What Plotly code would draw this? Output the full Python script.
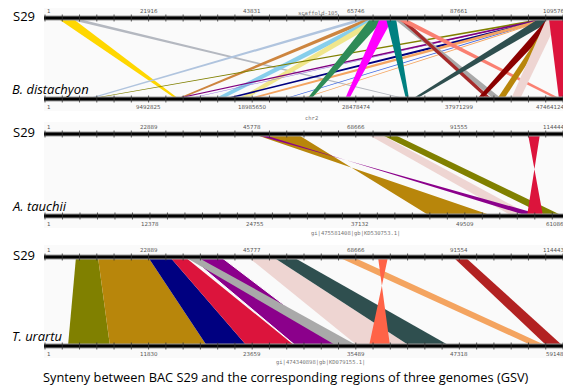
import plotly.graph_objects as go

W, H = 571, 388
OFF = 8  # default page body margin
X0, X1 = 45, 563

# ---------------- data ----------------
# Panel 1 : S29 vs B. distachyon
p1_top_len = 109576
p1_bot_len = 47464124
p1_top_ticks = [1, 21916, 43831, 65746, 87661, 109576]
p1_bot_ticks = [1, 9492825, 18985650, 28478474, 37971299, 47464124]
p1_colors = ["#B4B8C0", "#FFD700", "#B0C4DE", "#CD853F", "#87CEEB", "#F0E68C",
             "#9370DB", "#4169E1", "#F4A460",
             "#808000", "#800080", "#000080", "#F4A460", "#2E8B57", "#FF00FF",
             "#008080", "#A9A9A9", "#A52A2A", "#FA8072", "#2F4F4F", "#8B0000",
             "#B8860B", "#EED5D2", "#DC143C"]
p1_top_start = [3807, 2538, 67046, 68315, 69161, 69795,
                106000, 106800, 107000,
                105750, 105750, 106173, 105962, 68949, 70853,
                72122, 73602, 74660, 73814, 104693, 106385,
                107019, 106173, 106596]
p1_top_end = [6345, 5711, 69161, 70430, 71699, 72122,
              106600, 107400, 107700,
              108077, 107442, 108500, 108500, 71910, 73602,
              74237, 75294, 75717, 75929, 108077, 108923,
              108288, 108711, 109576]
p1_bot_start = [32986800, 12003500, 3756800, 12003500, 15485500, 17684600,
                12920000, 21800000, 23360000,
                3940100, 11637000, 16218500, 18417600, 24007000, 27489000,
                33078400, 41141900, 40500500, 46822900, 33628200, 39584200,
                41416800, 42699600, 47097800]
p1_bot_end = [33261700, 12278400, 4123400, 12370000, 16218500, 18417600,
              13100000, 22000000, 23550000,
              4215000, 12095200, 16768300, 18967400, 24373600, 27855500,
              33353300, 41875000, 40958600, 47281000, 33994700, 40042300,
              42058200, 43524300, 47464124]

# Panel 2 : S29 vs A. tauchii (bottom start > bottom end = inverted match)
p2_top_len = 114444
p2_bot_len = 61086
p2_top_ticks = [1, 22889, 45778, 68666, 91555, 114444]
p2_bot_ticks = [1, 12378, 24755, 37132, 49509, 61086]
p2_colors = ["#B8860B", "#EED5D2", "#808000", "#8B008B", "#DC143C"]
p2_top_start = [45953, 71138, 74012, 45953, 106709]
p2_top_end = [55674, 74012, 76884, 47721, 109360]
p2_bot_start = [52833, 55073, 59201, 58965, 58729]
p2_bot_end = [45403, 57432, 61086, 56960, 56842]

# Panel 3 : S29 vs T. urartu
p3_top_len = 114443
p3_bot_len = 59148
p3_top_ticks = [1, 22889, 45777, 68666, 91554, 114443]
p3_bot_ticks = [1, 11830, 23659, 35489, 47318, 59148]
p3_colors = ["#808000", "#B8860B", "#000080", "#DC143C", "#8B008B", "#A9A9A9",
             "#EED5D2", "#2F4F4F", "#F4A460", "#B22222", "#FF6347"]
p3_top_start = [6849, 11709, 22756, 27616, 32035, 30930, 44849, 50372, 64732, 90139, 73570]
p3_top_end = [11709, 22756, 27616, 30930, 38884, 33581, 50372, 54791, 68046, 92791, 75779]
p3_bot_start = [2626, 7422, 18499, 23066, 28662, 33344, 35741, 41679, 55724, 57323, 39396]
p3_bot_end = [7422, 18499, 23066, 28548, 33458, 35741, 41679, 46247, 57323, 59148, 36998]

panels = [
    dict(ytop=18, ybot=99, tl=p1_top_len, bl=p1_bot_len, tt=p1_top_ticks, bt=p1_bot_ticks,
         c=p1_colors, ts=p1_top_start, te=p1_top_end, bs=p1_bot_start, be=p1_bot_end,
         label="B. distachyon"),
    dict(ytop=134, ybot=216, tl=p2_top_len, bl=p2_bot_len, tt=p2_top_ticks, bt=p2_bot_ticks,
         c=p2_colors, ts=p2_top_start, te=p2_top_end, bs=p2_bot_start, be=p2_bot_end,
         label="A. tauchii"),
    dict(ytop=257, ybot=346, tl=p3_top_len, bl=p3_bot_len, tt=p3_top_ticks, bt=p3_bot_ticks,
         c=p3_colors, ts=p3_top_start, te=p3_top_end, bs=p3_bot_start, be=p3_bot_end,
         label="T. urartu"),
]


def gx(pos, length):
    return X0 + (pos - 1) / (length - 1) * (X1 - X0)


fig = go.Figure()
shapes = []
annotations = []

for k, p in enumerate(panels):
    shapes.append(dict(type="rect", xref="x", yref="y", x0=44, x1=571,
                       y0=p["ytop"] - 12, y1=p["ybot"] + 12,
                       fillcolor="#FAFAFA", line=dict(width=0), layer="below"))
    for i, col in enumerate(p["c"]):
        xs = [gx(p["ts"][i], p["tl"]), gx(p["te"][i], p["tl"]),
              gx(p["be"][i], p["bl"]), gx(p["bs"][i], p["bl"]), gx(p["ts"][i], p["tl"])]
        ys = [p["ytop"], p["ytop"], p["ybot"], p["ybot"], p["ytop"]]
        lw = 0
        lc = col
        if k == 2 and col == "#8B008B":
            lw, lc = 1, "white"
        fig.add_trace(go.Scatter(x=xs, y=ys, mode="lines", fill="toself",
                                 fillcolor=col, line=dict(width=lw, color=lc),
                                 hoverinfo="skip", showlegend=False))
    for yy, ticks, length, side in [(p["ytop"], p["tt"], p["tl"], -1), (p["ybot"], p["bt"], p["bl"], 1)]:
        fig.add_trace(go.Scatter(x=[44, 564], y=[yy, yy], mode="lines",
                                 line=dict(color="#9A9A9A", width=5),
                                 hoverinfo="skip", showlegend=False))
        fig.add_trace(go.Scatter(x=[44, 564], y=[yy, yy], mode="lines",
                                 line=dict(color="black", width=3),
                                 hoverinfo="skip", showlegend=False))
        tx, ty = [], []
        step = (ticks[1] - 1) / 6.0
        n = 0
        while 1 + n * step <= length + 1:
            xv = gx(1 + n * step, length)
            tx += [xv, xv, None]
            ty += [yy - 3.5, yy + 3.5, None]
            n += 1
        fig.add_trace(go.Scatter(x=tx, y=ty, mode="lines",
                                 line=dict(color="#333", width=0.8),
                                 hoverinfo="skip", showlegend=False))
        for j, t in enumerate(ticks):
            xv = gx(t, length)
            anchor = "center"
            if j == 0:
                anchor = "left"
            elif j == len(ticks) - 1:
                anchor = "right"
                xv = xv + 3
            annotations.append(dict(x=xv, y=yy + (-7.5 if side < 0 else 8.0),
                                    xref="x", yref="y", text=str(t), showarrow=False,
                                    xanchor=anchor, yanchor="middle",
                                    font=dict(family="DejaVu Sans", size=5.5, color="#555")))
    annotations.append(dict(x=11, y=p["ytop"] - 2, xref="x", yref="y", text="S29",
                            showarrow=False, xanchor="left", yanchor="middle",
                            font=dict(family="Open Sans", size=13, color="black")))
    annotations.append(dict(x=10, y=p["ybot"] - 10, xref="x", yref="y",
                            text="<i>" + p["label"] + "</i>",
                            showarrow=False, xanchor="left", yanchor="middle",
                            font=dict(family="Open Sans", size=13, color="black")))

small = dict(family="DejaVu Sans Mono", size=5.5, color="#777")
annotations.append(dict(x=318, y=12.5, xref="x", yref="y", text="scaffold-105", showarrow=False,
                        xanchor="center", yanchor="middle", font=small))
annotations.append(dict(x=311, y=118, xref="x", yref="y", text="chr2", showarrow=False,
                        xanchor="center", yanchor="middle", font=small))
annotations.append(dict(x=355, y=233, xref="x", yref="y", text="gi|475581408|gb|KD530753.1|",
                        showarrow=False, xanchor="center", yanchor="middle", font=small))
annotations.append(dict(x=320, y=362, xref="x", yref="y", text="gi|474340898|gb|KD079155.1|",
                        showarrow=False, xanchor="center", yanchor="middle", font=small))
annotations.append(dict(x=286, y=377, xref="x", yref="y",
                        text="Synteny between BAC S29 and the corresponding regions of three genomes (GSV)",
                        showarrow=False, xanchor="center", yanchor="middle",
                        font=dict(family="Open Sans", size=12.8, color="black")))

fig.update_layout(width=W - OFF, height=H - OFF, margin=dict(l=0, r=0, t=0, b=0),
                  paper_bgcolor="white", plot_bgcolor="white",
                  xaxis=dict(range=[OFF, W], visible=False, fixedrange=True),
                  yaxis=dict(range=[H, OFF], visible=False, fixedrange=True),
                  shapes=shapes, annotations=annotations, showlegend=False)
fig.write_html("out.html")
